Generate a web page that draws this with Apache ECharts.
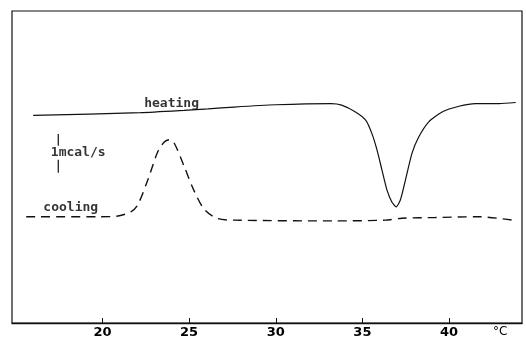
<!DOCTYPE html>
<html>
<head>
<meta charset="utf-8">
<script src="https://cdn.jsdelivr.net/npm/echarts@6/dist/echarts.min.js"></script>
<style>
  html, body { margin: 0; padding: 0; background: #fff; }
  #chart { width: 526px; height: 341px; }
</style>
</head>
<body>
<div id="chart"></div>
<script>
// temperature (°C) and heat flow (mcal/s, arbitrary baseline)
const heatingX = [16.0, 22.2, 24.7, 26.1, 27.6, 30.0, 33.2, 33.8, 34.6, 35.2, 35.55, 35.85, 36.13, 36.42, 36.7, 36.95, 37.19, 37.48, 37.86, 38.25, 38.83, 39.6, 40.57, 41.53, 42.89, 43.85];
const heatingY = [5.47, 5.54, 5.6, 5.64, 5.69, 5.75, 5.78, 5.74, 5.56, 5.34, 4.99, 4.55, 4.03, 3.5, 3.19, 3.06, 3.24, 3.76, 4.47, 4.9, 5.3, 5.56, 5.71, 5.78, 5.78, 5.81];

const coolingX = [15.6, 19.9, 20.9, 21.64, 22.03, 22.61, 23.19, 23.57, 23.86, 24.15, 24.73, 25.31, 25.89, 26.66, 27.63, 33.42, 36.32, 37.28, 39.22, 41.73, 43.66];
const coolingY = [2.8, 2.8, 2.82, 2.93, 3.11, 3.76, 4.51, 4.77, 4.83, 4.73, 4.11, 3.46, 2.99, 2.75, 2.71, 2.69, 2.71, 2.76, 2.78, 2.8, 2.71];

// 1 mcal/s scale bar, split around its label
const scaleBarX = [17.45, 17.45, null, 17.45, 17.45];
const scaleBarY = [4.98, 4.67, null, 4.30, 3.96];

const noteTexts = ['heating', 'cooling', '1mcal/s'];
const noteX = [23.99, 18.17, 18.6];
const noteY = [5.77, 3.03, 4.48];

const tickValues = [20, 25, 30, 35, 40];
const unitPos = 42.95;

const chart = echarts.init(document.getElementById('chart'));

const zip = (xs, ys) => xs.map((x, i) => (x === null ? [null, null] : [x, ys[i]]));

chart.setOption({
  animation: false,
  grid: {
    left: 12, right: 4, top: 11, bottom: 18,
    show: true,
    borderColor: '#111',
    borderWidth: 1.2
  },
  xAxis: {
    type: 'value',
    min: 14.78,
    max: 44.21,
    splitLine: { show: false },
    axisLine: { show: true, onZero: false, lineStyle: { color: '#111', width: 1.3 } },
    axisTick: {
      show: true,
      inside: true,
      length: 5,
      customValues: tickValues,
      lineStyle: { color: '#111', width: 1 }
    },
    axisLabel: {
      customValues: tickValues.concat([unitPos]),
      margin: 3,
      color: '#000',
      fontFamily: 'DejaVu Sans',
      fontWeight: 'bold',
      fontSize: 13,
      formatter: v => (v > 41 ? '{u|°C}' : String(v)),
      rich: {
        u: { fontSize: 12, fontWeight: 'normal', fontFamily: 'DejaVu Sans', color: '#000' }
      }
    }
  },
  yAxis: {
    type: 'value',
    min: 0,
    max: 8.22,
    show: false
  },
  series: [
    {
      name: 'heating',
      type: 'line',
      data: zip(heatingX, heatingY),
      smooth: 0.2,
      symbol: 'none',
      lineStyle: { color: '#111', width: 1.2 }
    },
    {
      name: 'cooling',
      type: 'line',
      data: zip(coolingX, coolingY),
      smooth: 0.3,
      symbol: 'none',
      lineStyle: { color: '#111', width: 1.4, type: [9, 6] }
    },
    {
      name: 'scale',
      type: 'line',
      data: zip(scaleBarX, scaleBarY),
      connectNulls: false,
      symbol: 'none',
      lineStyle: { color: '#111', width: 1.2 }
    },
    {
      name: 'notes',
      type: 'scatter',
      symbolSize: 0,
      data: noteTexts.map((t, i) => ({ name: t, value: [noteX[i], noteY[i]] })),
      label: {
        show: true,
        position: 'inside',
        formatter: p => p.name,
        color: '#000',
        fontFamily: 'DejaVu Sans Mono',
        fontWeight: 'bold',
        fontSize: 13
      }
    }
  ]
});
</script>
</body>
</html>
